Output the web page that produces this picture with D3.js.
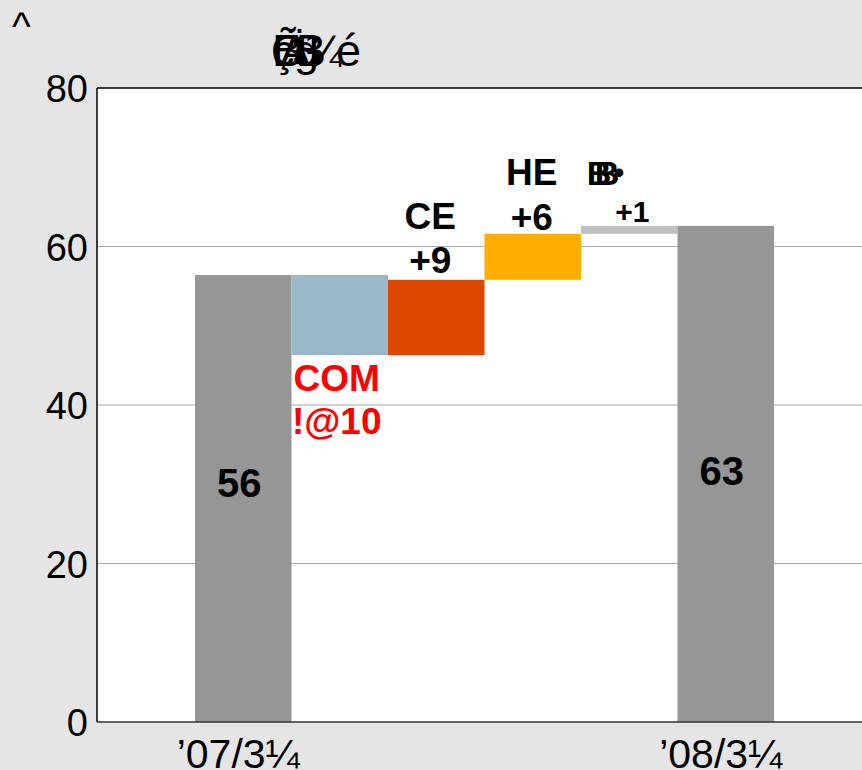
<!DOCTYPE html>
<html>
<head>
<meta charset="utf-8">
<style>
  body { margin: 0; background: #e5e5e5; }
  svg { display: block; font-family: "Liberation Sans", Arial, sans-serif; }
  .tick-y { font-size: 38px; fill: #000; }
  .tick-x { font-size: 41px; fill: #000; }
  .lbl { font-weight: bold; text-anchor: middle; }
</style>
</head>
<body>
<div id="chart"></div>
<script src="https://d3js.org/d3.v7.min.js"></script>
<script>
// waterfall data
var categories = ["pad0", "'07/3¼", "COM", "CE", "HE", "OTH", "'08/3¼", "pad7"];
var barCats   = ["'07/3¼", "COM", "CE", "HE", "OTH", "'08/3¼"];
var lows      = [0, 46.3, 46.3, 55.8, 61.6, 0];
var highs     = [56.4, 56.4, 55.8, 61.6, 62.6, 62.6];
var barColors = ["#969696", "#9bb7ca", "#dd4700", "#ffae00", "#c0c0c0", "#969696"];
var yTicks    = [0, 20, 40, 60, 80];
var xTickLabels = ["\u201907/3\u00bc", "\u201908/3\u00bc"];

var W = 862, H = 770;
var plotLeft = 98.5, plotTop = 88, plotBottom = 722;

var svg = d3.select("#chart").append("svg")
  .attr("width", W).attr("height", H);

var x = d3.scaleBand().domain(categories).range([plotLeft, plotLeft + 8 * 96.5]).padding(0);
var y = d3.scaleLinear().domain([0, 80]).range([plotBottom, plotTop]);
var bw = x.bandwidth();

// plot area
svg.append("rect")
  .attr("x", 97).attr("y", plotTop)
  .attr("width", W).attr("height", plotBottom - plotTop)
  .attr("fill", "#fff");

// gridlines
svg.selectAll(".grid")
  .data(yTicks.filter(function(d) { return d > 0 && d < 80; }))
  .enter().append("line")
  .attr("x1", 97).attr("x2", W)
  .attr("y1", function(d) { return y(d); })
  .attr("y2", function(d) { return y(d); })
  .attr("stroke", "#aaa").attr("stroke-width", 1.2);

// bars
svg.selectAll(".bar")
  .data(barCats)
  .enter().append("rect")
  .attr("x", function(d) { return x(d); })
  .attr("y", function(d, i) { return y(highs[i]); })
  .attr("width", bw)
  .attr("height", function(d, i) { return y(lows[i]) - y(highs[i]); })
  .attr("fill", function(d, i) { return barColors[i]; });

// frame
svg.append("line").attr("x1", 97).attr("x2", W).attr("y1", plotTop).attr("y2", plotTop)
  .attr("stroke", "#000").attr("stroke-width", 1.5);
svg.append("line").attr("x1", 97).attr("x2", 97).attr("y1", plotTop).attr("y2", plotBottom)
  .attr("stroke", "#000").attr("stroke-width", 1.5);
svg.append("line").attr("x1", 97).attr("x2", W).attr("y1", plotBottom).attr("y2", plotBottom)
  .attr("stroke", "#333").attr("stroke-width", 1.5);

// y axis labels
svg.selectAll(".tick-y")
  .data(yTicks)
  .enter().append("text")
  .attr("class", "tick-y")
  .attr("x", 88)
  .attr("y", function(d) { return y(d) + 14; })
  .attr("text-anchor", "end")
  .text(function(d) { return d; });

// x axis labels
svg.selectAll(".tick-x")
  .data([barCats[0], barCats[5]])
  .enter().append("text")
  .attr("class", "tick-x")
  .attr("x", function(d) { return x(d) + bw / 2 - 5; })
  .attr("y", 768)
  .attr("text-anchor", "middle")
  .text(function(d, i) { return xTickLabels[i]; });

// value labels
function cx(c) { return x(c) + bw / 2; }
function lbl(t, xx, yy, size, color) {
  svg.append("text").attr("class", "lbl")
    .attr("x", xx).attr("y", yy)
    .style("font-size", size + "px")
    .style("fill", color || "#000")
    .text(t);
}
lbl("56", cx("'07/3¼") - 4, 497, 40);
lbl("63", cx("'08/3¼") - 4, 485, 40);
lbl("COM", cx("COM") - 3, 391, 37, "#ff0000");
lbl("!@10", cx("COM") - 3, 434, 37, "#ff0000");
lbl("CE", cx("CE") - 6, 229, 37);
lbl("+9", cx("CE") - 6, 273, 37);
lbl("HE", cx("HE") - 1, 185, 37);
lbl("+6", cx("HE") - 1, 230, 37);
lbl("+1", cx("OTH") + 3, 222, 30);
// garbled glyph above +1
svg.append("text").attr("class", "lbl").attr("x", 599).attr("y", 185).style("font-size", "34px").text("B");
svg.append("text").attr("class", "lbl").attr("x", 607).attr("y", 185).style("font-size", "34px").text("B");
svg.append("text").attr("class", "lbl").attr("x", 619).attr("y", 183).style("font-size", "30px").text("\u2022");

// caret top-left
svg.append("text").attr("x", 12).attr("y", 40).style("font-size", "40px").text("^");

// garbled overlapped title
var titleBits = [["\u00d5", 271], ["B", 272], ["\u00e7", 272], ["\u00c4", 280], ["S", 292], ["g", 294], ["B", 296], ["\u00bc", 306], ["\u00e9", 336]];
svg.selectAll(".title")
  .data(titleBits)
  .enter().append("text")
  .attr("x", function(d) { return d[1]; })
  .attr("y", 66)
  .style("font-size", "45px")
  .text(function(d) { return d[0]; });
</script>
</body>
</html>
